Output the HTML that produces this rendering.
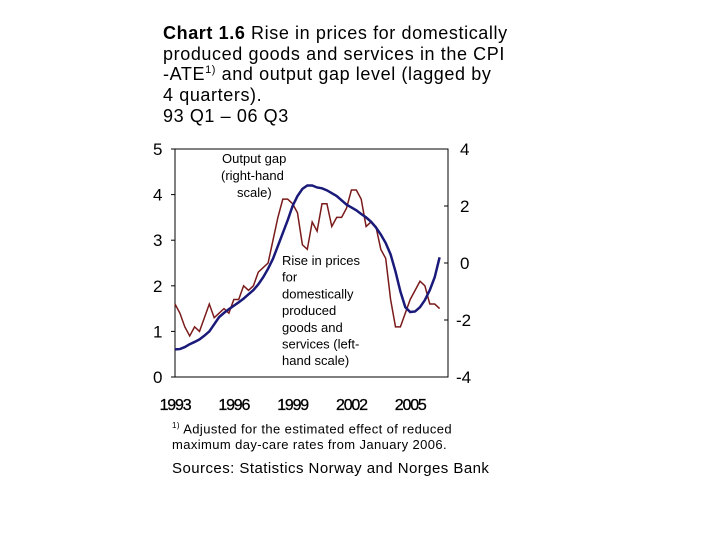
<!DOCTYPE html>
<html><head><meta charset="utf-8"><style>
body{margin:0;background:#fff;width:720px;height:540px;overflow:hidden;font-family:"Liberation Sans",sans-serif;}
.t{position:absolute;color:#000;}
</style></head><body>
<div class="t" style="left:163px;top:23px;font-size:18px;line-height:20.7px;white-space:nowrap;letter-spacing:0.6px;">
<b>Chart 1.6</b> Rise in prices for domestically<br>produced goods and services in the CPI<br>-ATE<sup style="font-size:11px;line-height:0">1)</sup> and output gap level (lagged by<br>4 quarters).<br>93 Q1 – 06 Q3</div>
<svg id="c" width="720" height="540" style="position:absolute;left:0;top:0"></svg>
<div class="t" style="left:172px;top:418px;font-size:13px;line-height:16px;letter-spacing:0.4px;white-space:nowrap;"><sup style="font-size:8px">1)</sup> Adjusted for the estimated effect of reduced<br>maximum day-care rates from January 2006.</div>
<div class="t" style="left:172px;top:460px;font-size:15px;letter-spacing:0.45px;white-space:nowrap;">Sources: Statistics Norway and Norges Bank</div>
<script>
const prices=[1.6,1.4,1.1,0.9,1.1,1.0,1.3,1.6,1.3,1.4,1.5,1.4,1.7,1.7,2.0,1.9,2.0,2.3,2.4,2.5,3.0,3.5,3.9,3.9,3.8,3.6,2.9,2.8,3.4,3.2,3.8,3.8,3.3,3.5,3.5,3.7,4.1,4.1,3.9,3.3,3.4,3.3,2.8,2.6,1.7,1.1,1.1,1.4,1.7,1.9,2.1,2.0,1.6,1.6,1.5];
const gap=[-3.03,-3.02,-2.95,-2.85,-2.77,-2.68,-2.55,-2.4,-2.15,-1.9,-1.75,-1.62,-1.5,-1.38,-1.25,-1.1,-0.95,-0.75,-0.5,-0.2,0.15,0.6,1.05,1.5,2.0,2.35,2.6,2.72,2.72,2.65,2.62,2.55,2.45,2.35,2.2,2.05,1.95,1.85,1.72,1.6,1.45,1.25,1.0,0.7,0.3,-0.3,-1.0,-1.55,-1.72,-1.7,-1.55,-1.3,-0.95,-0.5,0.2];
const leftTicks=[0,1,2,3,4,5];
const rightTicks=[-4,-2,0,2,4];
const yearTicks=[1993,1996,1999,2002,2005];
const X0=175,X1=448,Y0=377,Y1=149;
const xq=i=>X0+i*(19.6/4);
const xy=y=>X0+(y-1993)*19.6;
const yl=v=>Y0-(v/5)*(Y0-Y1);
const yr=v=>Y0-((v+4)/8)*(Y0-Y1);
const s=document.getElementById('c');const NS='http://www.w3.org/2000/svg';
function mk(t,a,txt){const e=document.createElementNS(NS,t);for(const k in a)e.setAttribute(k,a[k]);if(txt!==undefined)e.textContent=txt;s.appendChild(e);return e;}
let e=mk('rect',{x:X0,y:Y1,width:X1-X0,height:Y0-Y1,fill:'none',stroke:'#000','stroke-width':1});


leftTicks.forEach(v=>{const t=mk('text',{x:153,y:yl(v)+6,'font-size':17,'font-family':'Liberation Sans'},String(v));


const l=mk('line',{x1:X0,x2:X0-4,y1:yl(v),y2:yl(v),stroke:'#000'});

});
rightTicks.forEach(v=>{const t=mk('text',{x:v<0?456:460,y:yr(v)+6,'font-size':17,'font-family':'Liberation Sans'},String(v));


const l=mk('line',{x1:X1,x2:X1-4,y1:yr(v),y2:yr(v),stroke:'#000'});

});
yearTicks.forEach(v=>{const t=mk('text',{x:xy(v),y:410,'font-size':16,'font-family':'Liberation Sans','text-anchor':'middle','letter-spacing':'-1.2','stroke':'#000','stroke-width':0.3},String(v));

});
let p=mk('polyline',{points:prices.map((v,i)=>xq(i)+','+yl(v)).join(' '),fill:'none',stroke:'#7a1a1a','stroke-width':1.5});


p=mk('polyline',{points:gap.map((v,i)=>xq(i)+','+yr(v)).join(' '),fill:'none',stroke:'#1a1a7a','stroke-width':2.5});


[['Output gap',222,163],['(right-hand',221,180],['scale)',237,197]].forEach(a=>{const t=mk('text',{x:a[1],y:a[2],'font-size':13,'font-family':'Liberation Sans'},a[0]);

});
['Rise in prices','for','domestically','produced','goods and','services (left-','hand scale)'].forEach((a,i)=>{const t=mk('text',{x:282,y:265+i*16.7,'font-size':13,'font-family':'Liberation Sans'},a);

});
</script>
</body></html>
